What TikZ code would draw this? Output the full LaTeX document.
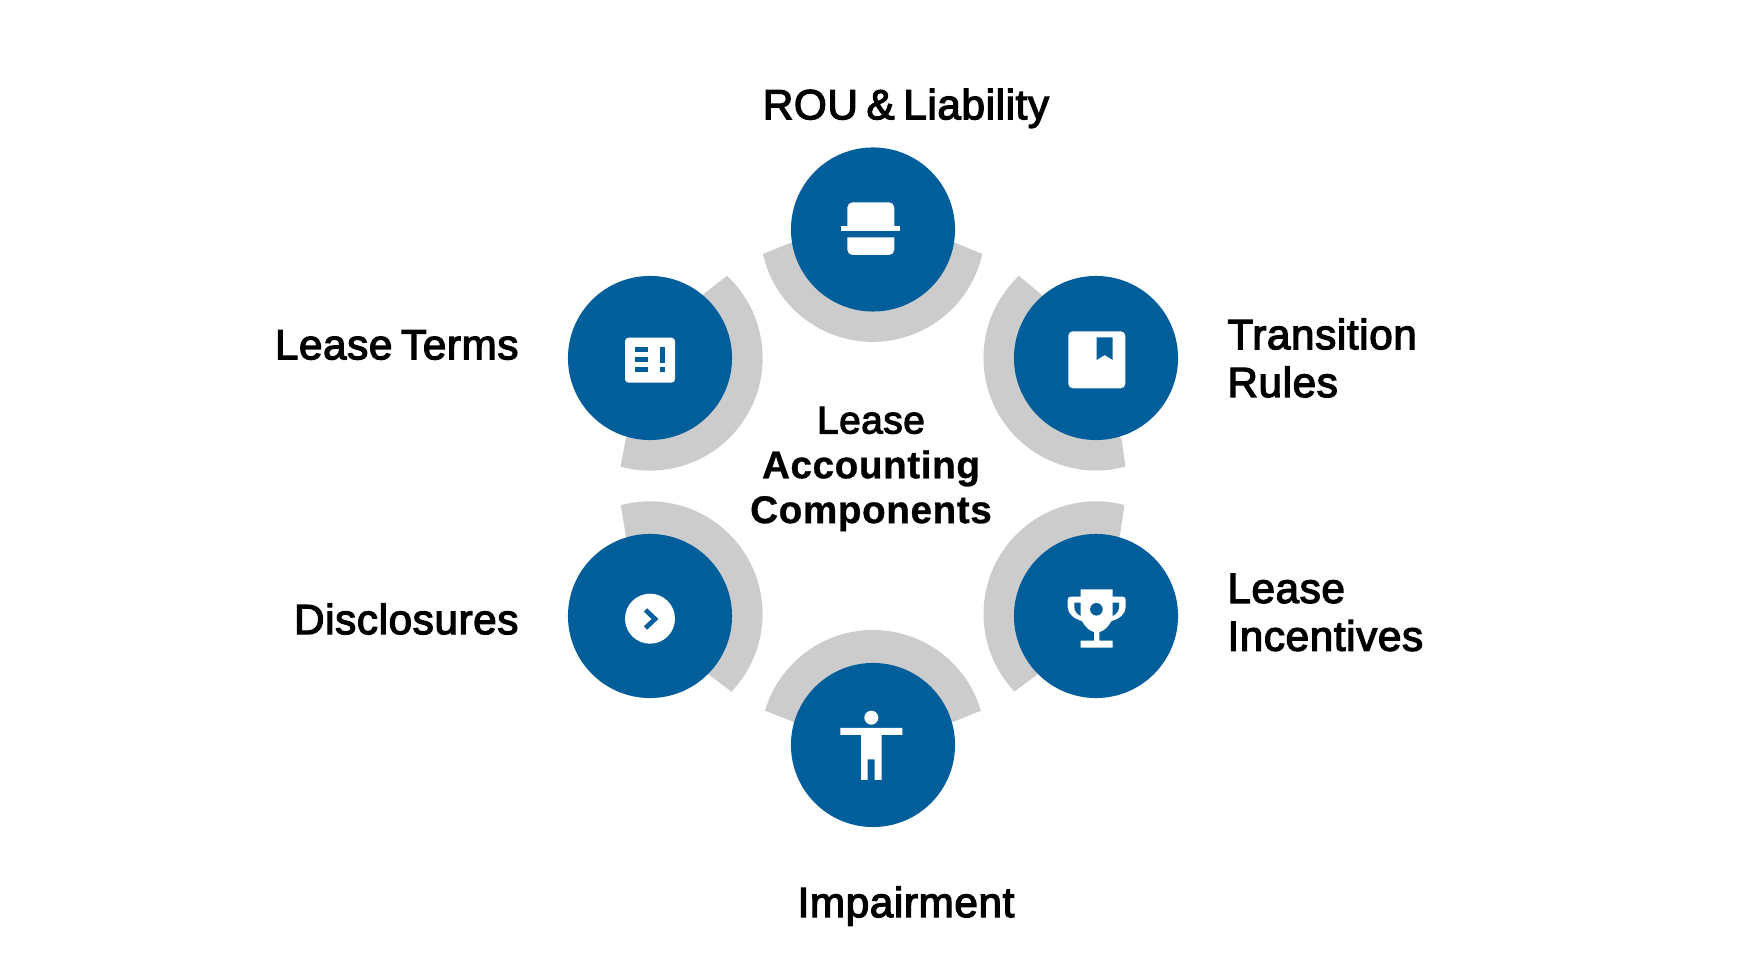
\documentclass[tikz,border=0pt]{standalone}
\usepackage{fontspec}
\setmainfont{Liberation Sans}
\newfontfamily\mediumfont{Liberation Sans}[FakeBold=3,LetterSpace=1.5,WordSpace=0.7]
\newfontfamily\heavyfont{Liberation Sans Bold}[FakeBold=0.8,LetterSpace=1.5]
\usetikzlibrary{positioning}
\definecolor{leaseblue}{HTML}{005E9B}
\definecolor{bandgray}{HTML}{CCCCCC}
\tikzset{
   band/.style={fill=bandgray},
   disc/.style={circle,fill=leaseblue,minimum size=1.64cm,inner sep=0pt},
   heading/.style={inner sep=0pt,align=left,font=\fontsize{12}{13.6}\selectfont\mediumfont},
   glyph/.style={fill=white},
   cutout/.style={fill=leaseblue},
}
\begin{document}
\begin{tikzpicture}[x=0.01cm,y=-0.01cm]
   \useasboundingbox (0,0) rectangle (1742,980);

   \fill[band] (982.3,254) arc[start angle=12.6,end angle=167.4,radius=112.4] -- (791,242.7) -- (955,242.7) -- cycle;
   \fill[band] (1125.4,466.6) arc[start angle=74.9,end angle=226.8,radius=112.6] -- (1041.7,295) -- (1121.7,440) -- cycle;
   \fill[band] (1124.5,505) arc[start angle=284.6,end angle=136.5,radius=112.6] -- (1036.7,675) -- (1120,535) -- cycle;
   \fill[band] (980.9,710.7) arc[start angle=343.6,end angle=196.4,radius=112.5] -- (794,722) -- (953,722) -- cycle;
   \fill[band] (620.8,505.2) arc[start angle=255,end angle=403.6,radius=112.6] -- (708.3,674.3) -- (626,537) -- cycle;
   \fill[band] (727,275.8) arc[start angle=-46.9,end angle=105.2,radius=112.6] -- (626,438) -- (703.3,294.3) -- cycle;

   \node[disc] (rou) at (873,229.5) {};
   \node[disc] (transition) at (1096,358) {};
   \node[disc] (incentives) at (1096,616) {};
   \node[disc] (impairment) at (873,745) {};
   \node[disc] (disclosures) at (650,616) {};
   \node[disc] (terms) at (650,358) {};

   \node[heading,above=0.18cm of rou,xshift=0.33cm] (roulabel) {ROU \& Liability};
   \node[heading,right=0.48cm of transition] (transitionlabel) {Transition\\Rules};
   \node[heading,right=0.48cm of incentives,yshift=0.035cm] (incentiveslabel) {Lease\\Incentives};
   \node[heading,below=0.58cm of impairment,xshift=0.33cm] (impairmentlabel) {Impairment};
   \node[heading,left=0.48cm of disclosures,yshift=-0.03cm] (disclosureslabel) {Disclosures};
   \node[heading,left=0.48cm of terms,yshift=0.13cm] (termslabel) {Lease Terms};
   \node[inner sep=0pt,align=center,font=\fontsize{11}{12.75}\selectfont] (hub) at (871,469)
      {{\mediumfont Lease}\\{\heavyfont Accounting}\\{\heavyfont Components}};

   \fill[glyph] (847.3,226) [rounded corners=1.5pt] -- (847.3,202.3) -- (894.3,202.3) [sharp corners] -- (894.3,226) -- cycle;
   \fill[glyph] (841.3,226) rectangle (900,231.3);
   \fill[glyph] (847.3,237.3) [rounded corners=1.5pt] -- (847.3,255) -- (894.3,255) [sharp corners] -- (894.3,237.3) -- cycle;

   \fill[glyph,rounded corners=1.3pt] (1068.3,331.3) rectangle (1125.3,388.3);
   \fill[cutout] (1096.7,337.3) -- (1112.7,337.3) -- (1112.7,360) -- (1104.7,355) -- (1096.7,360) -- cycle;

   \fill[glyph] (1080.7,589.3) -- (1112.7,589.3) -- (1112.7,596.7) -- (1122.7,596.7)
      .. controls (1124.7,596.7) and (1125.7,598) .. (1125.7,600) -- (1125.7,607)
      .. controls (1125.7,614) and (1119,619) .. (1111.5,621)
      .. controls (1108,627) and (1104,631) .. (1099.4,632) -- (1099.4,640.7) -- (1112.7,640.7) -- (1112.7,647.7)
      -- (1080.7,647.7) -- (1080.7,640.7) -- (1094,640.7) -- (1094,632)
      .. controls (1089.4,631) and (1085.4,627) .. (1081.9,621)
      .. controls (1074.4,619) and (1067.7,614) .. (1067.7,607) -- (1067.7,600)
      .. controls (1067.7,598) and (1068.7,596.7) .. (1070.7,596.7) -- (1080.7,596.7) -- cycle;
   \fill[cutout] (1096.4,609.3) circle (6.3);
   \fill[cutout] (1074.3,602.7) -- (1080.7,602.7) -- (1080.7,616) .. controls (1077,614) and (1074.3,611) .. (1074.3,607) -- cycle;
   \fill[cutout] (1119,602.7) -- (1112.7,602.7) -- (1112.7,616) .. controls (1116.3,614) and (1119,611) .. (1119,607) -- cycle;

   \fill[glyph] (871.3,717.7) circle (7);
   \fill[glyph] (840.3,728) -- (902.3,728) -- (902.3,735) -- (881.7,735) -- (881.7,780) -- (874.7,780) -- (874.7,759.3)
      -- (867.7,759.3) -- (867.7,780) -- (861,780) -- (861,735) -- (840.3,735) -- cycle;

   \fill[glyph] (650,618.7) circle (25);
   \draw[leaseblue,line width=1.33pt] (645.5,610) -- (655,619) -- (645.5,628);

   \fill[glyph,rounded corners=1pt] (625,337.7) rectangle (675,382.7);
   \foreach \rowtop in {347.3,357.3,367.3}
      \fill[cutout] (635,\rowtop) rectangle (647.7,\rowtop+5.2);
   \fill[cutout] (660,347.3) rectangle (665,362.7);
   \fill[cutout] (660,367.3) rectangle (665,372.5);
\end{tikzpicture}
\end{document}
